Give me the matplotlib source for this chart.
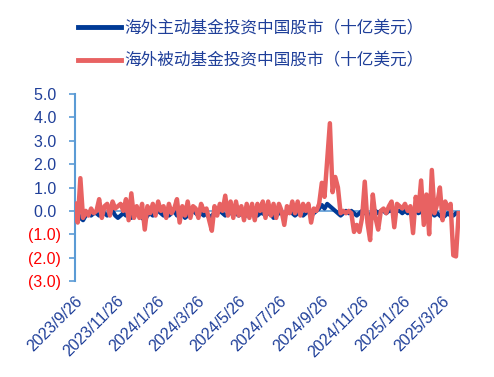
import matplotlib.pyplot as plt
import pandas as pd

plt.rcParams['font.family'] = ['Liberation Sans', 'Noto Sans CJK SC', 'DejaVu Sans']

# 4-day sampling from 2023/9/26
dates = pd.date_range('2023-09-26', periods=144, freq='4D')

active = [
    -0.3, -0.1, -0.3, -0.4, -0.2, -0.1, -0.2, -0.1, -0.1, -0.2, -0.1,
    -0.1, -0.2, -0.1, 0.0, -0.2, -0.3, -0.2, -0.1, -0.2, -0.1,
    -0.3, -0.2, -0.1, -0.2, -0.3, -0.4, -0.2, -0.1, -0.2, -0.1,
    0.0, -0.1, -0.2, -0.1, -0.2, -0.1, 0.0, -0.2, -0.1, -0.1,
    -0.3, -0.2, -0.1, 0.0, -0.1, -0.2, -0.1, -0.2, -0.1, -0.3,
    -0.2, -0.1, -0.1, 0.0, -0.1, -0.2, -0.1, -0.1, 0.0, -0.1,
    -0.2, -0.1, -0.1, -0.2, -0.1, 0.0, -0.1, -0.2, -0.1, -0.1,
    -0.2, -0.1, -0.1, -0.3, -0.2, -0.1, -0.1, -0.2, -0.1, 0.0,
    -0.1, -0.2, -0.1, -0.1, -0.2, -0.1, 0.0, -0.2, -0.1, 0.0,
    0.1, 0.25, 0.1, 0.3, 0.2, 0.1, 0.0, -0.1, -0.2, -0.1,
    0.0, -0.1, 0.0, -0.1, -0.2, -0.1, 0.0, -0.1, -0.1, -0.2,
    -0.1, 0.0, -0.1, 0.0, 0.0, -0.1, 0.0, 0.0, -0.1, 0.0,
    0.0, -0.1, 0.0, -0.1, 0.0, -0.1, 0.0, -0.1, 0.0, -0.2,
    -0.1, -0.2, -0.1, -0.2, -0.1, -0.2, -0.3, -0.2, -0.1, -0.2, -0.2, -0.1, -0.1,
]

passive = [
    0.3, -0.5, 1.4, -0.3, 0.0, -0.2, 0.1, -0.1, 0.0, 0.5,
    -0.3, 0.2, 0.3, -0.2, 0.4, 0.1, 0.2, 0.3, 0.0, 0.5,
    -0.4, 0.75, -0.3, 0.2, -0.3, 0.3, -0.8, 0.2, -0.1, 0.3,
    -0.2, 0.4, 0.0, 0.2, -0.3, 0.3, -0.1, 0.1, 0.5, -0.5,
    0.2, -0.2, 0.4, -0.3, 0.2, 0.1, -0.3, 0.3, 0.0, 0.1,
    -0.4, -0.85, 0.2, -0.2, 0.3, 0.0, 0.65, -0.2, 0.4, -0.3,
    0.4, -0.2, 0.2, -0.4, 0.3, -0.3, 0.3, -0.4, 0.3, 0.0,
    0.4, -0.3, 0.4, -0.2, 0.3, -0.3, 0.3, 0.0, -0.6, 0.2,
    -0.1, 0.4, -0.1, 0.4, -0.2, 0.3, 0.0, 0.3, -0.5, 0.1,
    0.0, 0.3, 1.2, 0.6, 2.2, 3.75, 0.8, 1.45, 1.0, -0.1,
    0.0, -0.1, 0.0, -0.1, -0.9, -0.6, -0.9, -0.3, 1.25, -0.5,
    -1.25, 0.7, -0.3, -0.8, 0.0, 0.1, -0.1, 0.2, 0.4, -0.7,
    0.3, 0.2, 0.1, 0.3, 0.0, 0.2, -0.95, 0.6, 0.0, 1.3,
    -0.6, 0.7, -1.0, 1.75, -0.1, 0.3, 1.0, -0.4, 0.4, 0.1,
    0.3, -1.9, -1.95, -0.1,
]

yticks = [5, 4, 3, 2, 1, 0, -1, -2, -3]
xticks = pd.date_range('2023-09-01', '2025-03-01', freq='2MS') + pd.Timedelta(days=25)

blue = '#003A96'
red = '#E86262'
label_blue = '#1F3F99'
axis_blue = '#5B9BD5'

fig = plt.figure(figsize=(4.94, 3.77), dpi=100)
ax = fig.add_axes([75 / 494, 1 - 281 / 377, 385 / 494, 187 / 377])

ax.axhline(0, color=axis_blue, lw=1.2, zorder=1)
ax.plot(dates, active, color=blue, lw=3.0, label='海外主动基金投资中国股市（十亿美元）', zorder=2)
ax.plot(dates, passive, color=red, lw=3.2, label='海外被动基金投资中国股市（十亿美元）', zorder=3)

ax.set_ylim(-3, 5)
ax.set_xlim(pd.Timestamp('2023-09-26'), pd.Timestamp('2025-04-22'))

ax.set_yticks(yticks)
ylabels = []
for v in yticks:
    ylabels.append(f'{v:.1f} ' if v >= 0 else f'({-v:.1f})')
ax.set_yticklabels(ylabels, fontsize=11.5)
for lab, v in zip(ax.get_yticklabels(), yticks):
    lab.set_color(label_blue if v >= 0 else '#FF0000')
ax.tick_params(axis='y', direction='out', length=4, width=1.2, color=axis_blue, pad=6)

ax.set_xticks(xticks)
ax.set_xticklabels([f'{d.year}/{d.month}/{d.day}' for d in xticks], fontsize=11.5,
                   color=label_blue, rotation=45, ha='right', va='top', rotation_mode='anchor')
ax.tick_params(axis='x', length=0, pad=9)

for s in ['top', 'right', 'bottom']:
    ax.spines[s].set_visible(False)
ax.spines['left'].set_color(axis_blue)
ax.spines['left'].set_linewidth(1.5)

leg = fig.legend(loc='upper left', bbox_to_anchor=(78 / 494, 1 - 20 / 377), frameon=False,
                 fontsize=12, handlelength=2.6, handletextpad=0.2, labelspacing=1.0,
                 borderpad=0, borderaxespad=0)
for t in leg.get_texts():
    t.set_color(label_blue)
for h in leg.get_lines():
    h.set_linewidth(3.5)

fig.savefig('out.png', dpi=100)
